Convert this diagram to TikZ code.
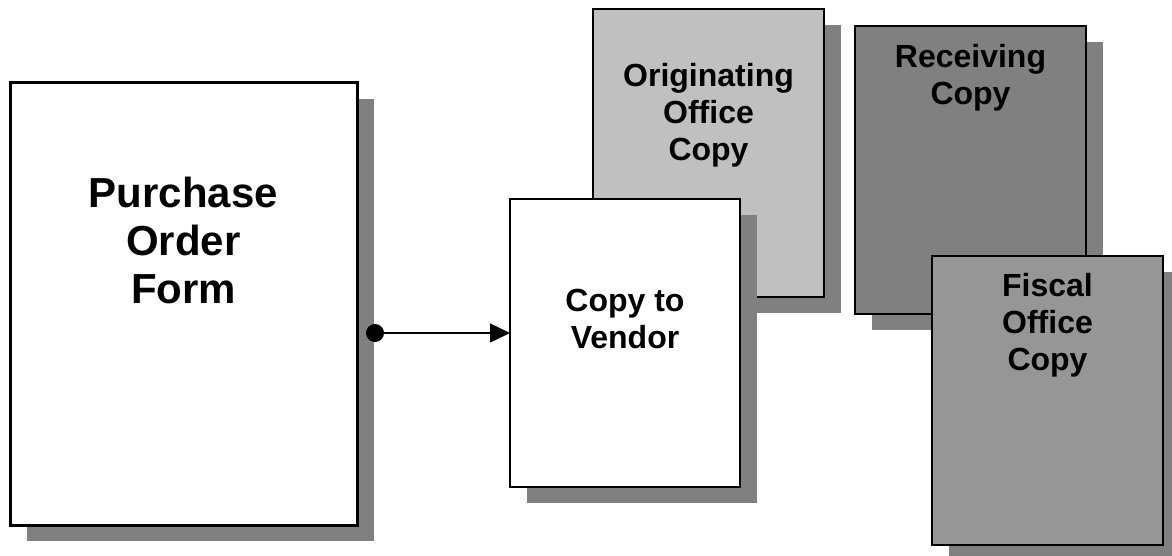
\documentclass[tikz,border=0pt]{standalone}
\usepackage{fontspec}
\setmainfont{Liberation Sans}
\usetikzlibrary{shadows,arrows.meta}
\definecolor{shadowgray}{HTML}{808080}
\definecolor{origgray}{HTML}{C0C0C0}
\definecolor{recvgray}{HTML}{808080}
\definecolor{fiscgray}{HTML}{969696}
\tikzset{
  paper/.style={draw=black, line width=2pt, inner sep=0pt, outer sep=0pt,
    general shadow={shadow xshift=17pt, shadow yshift=-16pt, fill=shadowgray}},
  bigpaper/.style={paper, line width=3pt},
  bigtext/.style={font=\fontsize{42}{48}\selectfont\bfseries, align=center, inner sep=0pt},
  smalltext/.style={font=\fontsize{32}{37}\selectfont\bfseries, align=center, inner sep=0pt},
  conn/.style={line width=1.5pt, -{Triangle[length=20pt,width=19pt]}}
}
\begin{document}
\begin{tikzpicture}[x=1pt,y=-1pt]
\useasboundingbox (0,0) rectangle (1172,556);
\clip (0,0) rectangle (1172,556);
% Purchase Order Form
\node[bigpaper, fill=white, minimum width=347pt, minimum height=442pt] (po) at (183.5,304) {};
\node[bigtext] (potext) at (183.5,240) {Purchase\\Order\\Form};
% Originating Office Copy
\node[paper, fill=origgray, minimum width=231pt, minimum height=288pt] (orig) at (708.5,153) {};
\node[smalltext] (origtext) at (708.5,115) {Originating\\Office\\Copy};
% Receiving Copy
\node[paper, fill=recvgray, minimum width=231pt, minimum height=288pt] (recv) at (970.5,170) {};
\node[smalltext] (recvtext) at (970.5,78) {Receiving\\Copy};
% Fiscal Office Copy
\node[paper, fill=fiscgray, minimum width=231pt, minimum height=289pt] (fisc) at (1047.5,400.5) {};
\node[smalltext] (fisctext) at (1047.5,325) {Fiscal\\Office\\Copy};
% Copy to Vendor
\node[paper, fill=white, minimum width=230pt, minimum height=288pt] (vendor) at (625,343) {};
\node[smalltext] (vendortext) at (625,319) {Copy to\\Vendor};
% connector
\node[circle, fill=black, inner sep=0pt, minimum size=18pt] (dot) at (375,333) {};
\draw[conn] (dot.center) -- (dot -| vendor.west);
\end{tikzpicture}
\end{document}
